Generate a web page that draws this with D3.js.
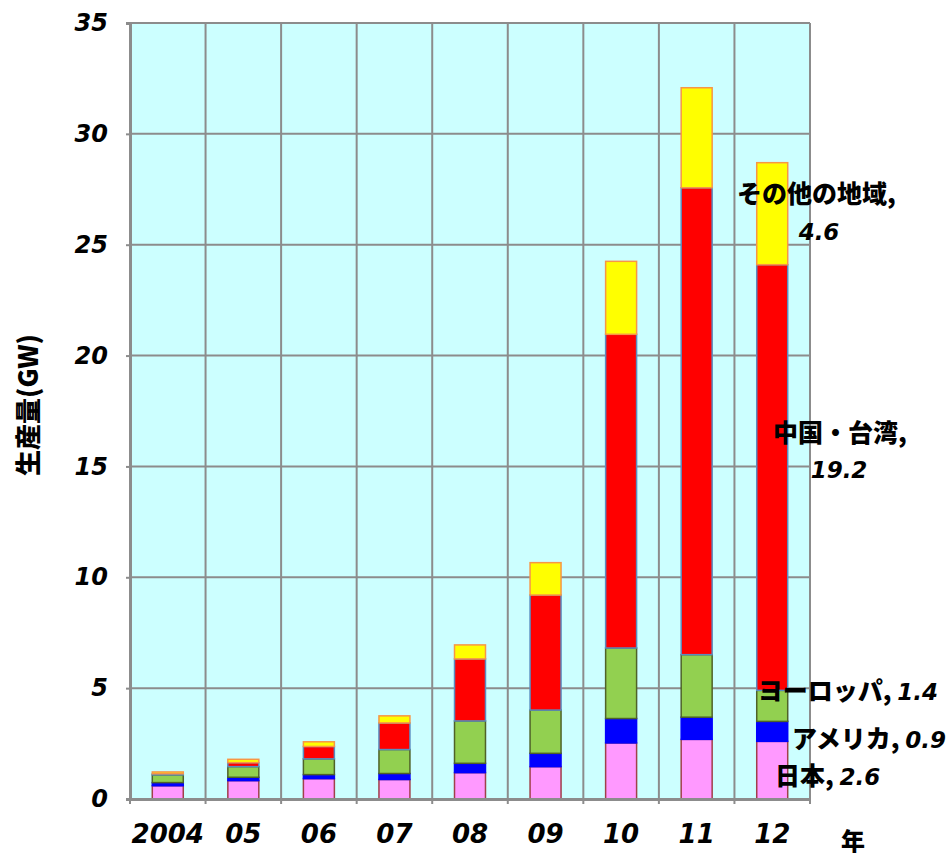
<!DOCTYPE html>
<html>
<head>
<meta charset="utf-8">
<script src="https://cdn.jsdelivr.net/npm/d3@7"></script>
<style>
  html, body { margin: 0; padding: 0; background: #fff; }
  svg text { font-family: "Noto Sans CJK JP", "Noto Sans", sans-serif; font-weight: 900; fill: #000; }
  .num { font-family: "DejaVu Sans", sans-serif; font-weight: bold; font-style: italic; }
</style>
</head>
<body>
<svg id="chart" width="950" height="857"></svg>
<script>
// Solar cell production by region (GW)
const years = ["2004", "05", "06", "07", "08", "09", "10", "11", "12"];
const japan   = [0.60, 0.83, 0.92, 0.88, 1.19, 1.46, 2.53, 2.69, 2.6];
const america = [0.14, 0.15, 0.18, 0.27, 0.42, 0.60, 1.10, 1.00, 0.9];
const europe  = [0.35, 0.48, 0.71, 1.08, 1.91, 1.95, 3.18, 2.82, 1.4];
const china   = [0.05, 0.18, 0.56, 1.20, 2.80, 5.19, 14.15, 21.06, 19.2];
const others  = [0.08, 0.15, 0.21, 0.32, 0.63, 1.46, 3.29, 4.51, 4.6];
const seriesNames = ["日本", "アメリカ", "ヨーロッパ", "中国・台湾", "その他の地域"];
const yTicks = [0, 5, 10, 15, 20, 25, 30, 35];

const fills   = ["#ff99ff", "#0000ff", "#92d050", "#ff0000", "#ffff00"];
const strokes = ["#a0404a", "#0000ff", "#4f6228", "#5a8cc0", "#f79646"];

const rows = years.map((y, i) => ({
  year: y, s0: japan[i], s1: america[i], s2: europe[i], s3: china[i], s4: others[i]
}));
const keys = ["s0", "s1", "s2", "s3", "s4"];
const stacked = d3.stack().keys(keys)(rows);

const svg = d3.select("#chart");
const plotL = 130, plotR = 810, plotT = 23, plotB = 799;

const x = d3.scaleBand().domain(years).range([plotL, plotR]).paddingInner(0).paddingOuter(0);
const y = d3.scaleLinear().domain([0, 35]).range([plotB, plotT]);
const barW = x.bandwidth() * 0.41;

// plot background
svg.append("rect")
  .attr("x", plotL).attr("y", plotT)
  .attr("width", plotR - plotL).attr("height", plotB - plotT)
  .attr("fill", "#ccffff");

// horizontal gridlines
svg.append("g").selectAll("line").data(yTicks.filter(d => d > 0)).join("line")
  .attr("x1", plotL).attr("x2", plotR)
  .attr("y1", d => y(d)).attr("y2", d => y(d))
  .attr("stroke", "#8c8c8c").attr("stroke-width", 2);

// vertical gridlines at category boundaries
const bounds = years.slice(1).map(d => x(d)).concat([plotR]);
svg.append("g").selectAll("line").data(bounds).join("line")
  .attr("x1", d => d).attr("x2", d => d)
  .attr("y1", plotT).attr("y2", plotB)
  .attr("stroke", "#8c8c8c").attr("stroke-width", 2);

// stacked bars
svg.append("g").selectAll("g").data(stacked).join("g")
  .each(function (layer, li) {
    d3.select(this).selectAll("rect").data(layer).join("rect")
      .attr("x", d => x(d.data.year) + (x.bandwidth() - barW) / 2)
      .attr("y", d => y(d[1]))
      .attr("width", barW)
      .attr("height", d => Math.max(0, y(d[0]) - y(d[1])))
      .attr("fill", fills[li])
      .attr("stroke", strokes[li])
      .attr("stroke-width", 1.5);
  });

// axes
const yAxis = svg.append("g").attr("transform", `translate(${plotL},0)`)
  .call(d3.axisLeft(y).tickValues(yTicks).tickSize(4).tickFormat(d3.format("d")));
yAxis.select(".domain").attr("stroke", "#8c8c8c").attr("stroke-width", 3);
yAxis.selectAll(".tick line").attr("stroke", "#8c8c8c").attr("stroke-width", 2);
yAxis.selectAll(".tick text")
  .attr("x", -22)
  .attr("class", "num")
  .style("font-size", "24px").attr("fill", "#000");

const xAxis = svg.append("g").attr("transform", `translate(0,${plotB})`)
  .call(d3.axisBottom(x).tickSize(0));
xAxis.select(".domain").attr("stroke", "#8c8c8c").attr("stroke-width", 3);
xAxis.selectAll(".tick text")
  .attr("y", 44).attr("dy", null)
  .attr("class", "num")
  .style("font-size", "26px").attr("fill", "#000");
// small boundary ticks below the base line
svg.append("g").selectAll("line").data([plotL].concat(bounds)).join("line")
  .attr("x1", d => d).attr("x2", d => d)
  .attr("y1", plotB).attr("y2", plotB + 5)
  .attr("stroke", "#8c8c8c").attr("stroke-width", 2);

// axis titles
svg.append("text")
  .attr("transform", "translate(38,405) rotate(-90)")
  .attr("text-anchor", "middle")
  .style("font-size", "26px")
  .text("生産量(GW)");
svg.append("text")
  .attr("x", 853).attr("y", 850)
  .attr("text-anchor", "middle")
  .style("font-size", "24px")
  .text("年");

// series labels for the 2012 bar
const last = years.length - 1;
const lastVals = [japan[last], america[last], europe[last], china[last], others[last]];
const fmt = d3.format(".1f");
const lbl = svg.append("g").style("font-size", "25px");

function label(parts, px, py, anchor) {
  const t = lbl.append("text").attr("x", px).attr("y", py).attr("text-anchor", anchor);
  parts.forEach(p => {
    const s = t.append("tspan").text(p.text);
    if (p.num) s.attr("class", "num").style("font-size", "23px");
  });
  return t;
}

label([{ text: seriesNames[4] + "," }], 737, 203, "start");
label([{ text: fmt(lastVals[4]), num: true }], 819, 240, "middle");

label([{ text: seriesNames[3] + "," }], 773, 442, "start");
label([{ text: fmt(lastVals[3]), num: true }], 839, 478, "middle");

label([{ text: seriesNames[2] + ", " }, { text: fmt(lastVals[2]), num: true }], 938, 700, "end");
label([{ text: seriesNames[1] + ", " }, { text: fmt(lastVals[1]), num: true }], 946, 748, "end");
label([{ text: seriesNames[0] + ", " }, { text: fmt(lastVals[0]), num: true }], 775, 785, "start");
</script>
</body>
</html>
